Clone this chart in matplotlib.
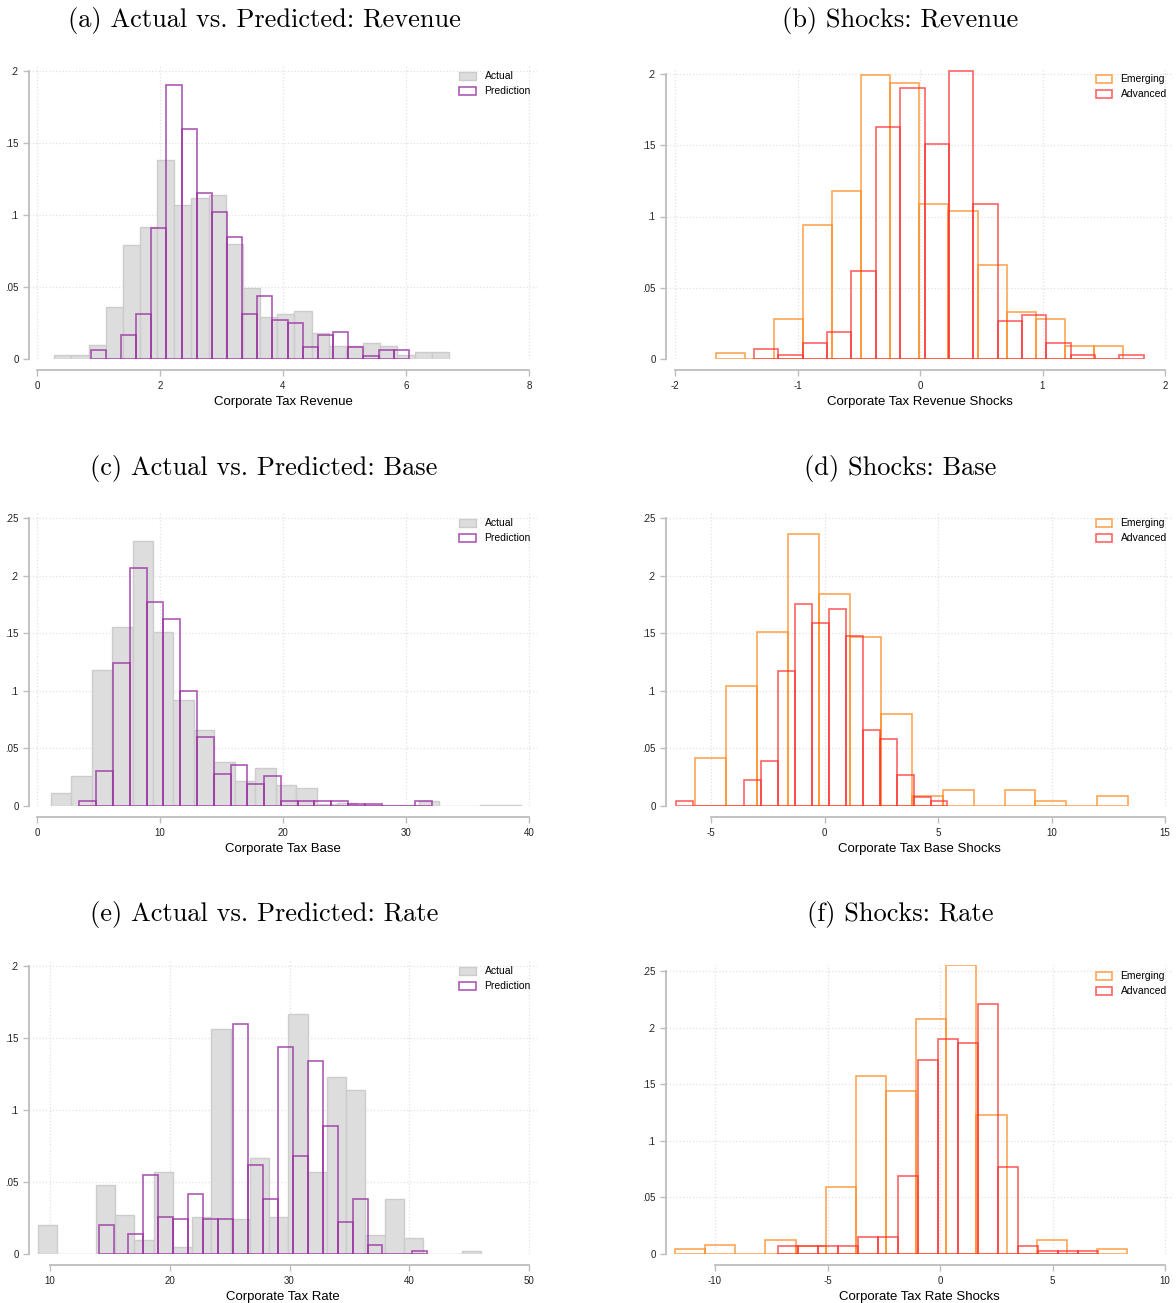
import numpy as np
from matplotlib import pyplot as plt

plt.rcParams['font.family'] = ['Liberation Sans', 'DejaVu Sans']

# ---- (a) revenue: actual vs prediction ----
rev_act_start, rev_act_w = 0.28, 0.279
rev_act = [0.003, 0.003, 0.010, 0.036, 0.079, 0.092, 0.138, 0.107, 0.112, 0.114,
           0.080, 0.049, 0.029, 0.031, 0.033, 0.018, 0.009, 0.009, 0.011, 0.009,
           0.003, 0.005, 0.005]
rev_pred_start, rev_pred_w = 0.87, 0.2466
rev_pred = [0.006, 0.0, 0.017, 0.031, 0.091, 0.190, 0.160, 0.115, 0.102, 0.085,
            0.031, 0.044, 0.027, 0.025, 0.008, 0.017, 0.019, 0.008, 0.002, 0.006, 0.006]

# ---- (b) revenue shocks ----
rev_em_start, rev_em_w = -1.666, 0.2373
rev_em = [0.004, 0.0, 0.028, 0.094, 0.118, 0.199, 0.194, 0.109, 0.104, 0.066,
          0.033, 0.028, 0.009, 0.009]
rev_ad_start, rev_ad_w = -1.355, 0.1989
rev_ad = [0.007, 0.003, 0.011, 0.019, 0.062, 0.163, 0.190, 0.151, 0.202, 0.109,
          0.027, 0.031, 0.011, 0.003, 0.0, 0.003]

# ---- (c) base: actual vs prediction ----
base_act_start, base_act_w = 1.12, 1.662
base_act = [0.011, 0.026, 0.118, 0.155, 0.230, 0.151, 0.092, 0.066, 0.038, 0.022,
            0.033, 0.018, 0.016, 0.002, 0.003, 0.001, 0.001, 0.001, 0.004, 0.0,
            0.0, 0.001, 0.001]
base_pred_start, base_pred_w = 3.45, 1.365
base_pred = [0.004, 0.030, 0.124, 0.207, 0.177, 0.162, 0.100, 0.060, 0.028, 0.036,
             0.019, 0.026, 0.004, 0.004, 0.004, 0.004, 0.002, 0.002, 0.0, 0.0, 0.004]

# ---- (d) base shocks ----
base_em_start, base_em_w = -5.69, 1.362
base_em = [0.042, 0.104, 0.151, 0.236, 0.184, 0.147, 0.080, 0.009, 0.014, 0.0,
           0.014, 0.004, 0.0, 0.009]
base_ad_start, base_ad_w = -6.55, 0.748
base_ad = [0.004, 0.0, 0.0, 0.0, 0.023, 0.039, 0.117, 0.175, 0.159, 0.171,
           0.148, 0.066, 0.058, 0.027, 0.008, 0.004]

# ---- (e) rate: actual vs prediction ----
rate_act_start, rate_act_w = 8.99, 1.609
rate_act = [0.020, 0.0, 0.0, 0.048, 0.027, 0.010, 0.057, 0.005, 0.026, 0.156,
            0.024, 0.067, 0.026, 0.167, 0.057, 0.123, 0.114, 0.013, 0.038, 0.011,
            0.0, 0.0, 0.002]
rate_pred_start, rate_pred_w = 14.06, 1.2475
rate_pred = [0.020, 0.0, 0.014, 0.055, 0.026, 0.024, 0.042, 0.024, 0.024, 0.160,
             0.062, 0.038, 0.144, 0.068, 0.134, 0.089, 0.022, 0.038, 0.006, 0.0,
             0.0, 0.002]

# ---- (f) rate shocks ----
rate_em_start, rate_em_w = -11.78, 1.34
rate_em = [0.004, 0.008, 0.0, 0.012, 0.007, 0.059, 0.157, 0.144, 0.208, 0.255,
           0.123, 0.0, 0.012, 0.0, 0.004]
rate_ad_start, rate_ad_w = -7.19, 0.889
rate_ad = [0.007, 0.007, 0.007, 0.007, 0.015, 0.015, 0.069, 0.171, 0.190, 0.186,
           0.221, 0.077, 0.007, 0.003, 0.003, 0.003]

W, H = 1176, 1303
fig = plt.figure(figsize=(W / 100, H / 100), dpi=100)

GRAY_FILL = '#dddddd'
GRAY_EDGE = '#cccccc'
PURPLE = '#9a2fa0'
ORANGE = '#ff8a1f'
RED = '#ff3030'
AXC = '#bdbdbd'


def make_ax(lpx, px0, px1, v0, v1, py0, py1, ymax, pad=8):
    # lpx: pixel x of the left spine; px0/px1: pixel x of first/last x tick
    # py0: pixel y of 0, py1: pixel y of ymax
    sx = (v1 - v0) / (px1 - px0)
    r = px1 + pad
    top = py1 - 6
    ax = fig.add_axes([lpx / W, 1 - py0 / H, (r - lpx) / W, (py0 - top) / H])
    ax.set_xlim(v0 - (px0 - lpx) * sx, v1 + pad * sx)
    ax.set_ylim(0, ymax * (py0 - top) / (py0 - py1))
    for s in ['top', 'right']:
        ax.spines[s].set_visible(False)
    for s in ['left', 'bottom']:
        ax.spines[s].set_color(AXC)
        ax.spines[s].set_linewidth(1.3)
    ax.spines['bottom'].set_position(('outward', 8))
    ax.spines['left'].set_bounds(0, ymax)
    ax.spines['bottom'].set_bounds(v0, v1)
    ax.tick_params(colors=AXC, labelcolor='#222222', labelsize=7, length=4, width=1)
    ax.grid(True, color='#e2e2e2', linestyle=':', linewidth=0.9)
    ax.set_axisbelow(True)
    return ax


def bars(ax, start, w, vals, **kw):
    x = start + w * np.arange(len(vals))
    return ax.bar(x, vals, width=w, align='edge', **kw)


def lab(v):
    if v == 0:
        return '0'
    return ('%g' % v).replace('0.', '.')


def finish(ax, xt, yt, xlabel, title, tx, ty, names):
    ax.set_xticks(xt, [('%g' % t) for t in xt])
    ax.set_yticks(yt, [lab(t) for t in yt])
    ax.set_xlabel(xlabel, fontsize=9.5, labelpad=4)
    fig.text(tx / W, 1 - ty / H, title, family='cmr10', fontsize=19,
             ha='center', va='center')
    ax.legend(names, loc='upper right', frameon=False, fontsize=7.5,
              handlelength=1.6, handleheight=0.8, borderaxespad=0.2,
              bbox_to_anchor=(1.0, 1.0))


# (a)
ax = make_ax(29, 37, 529, 0, 8, 359, 71, 0.2)
bars(ax, rev_act_start, rev_act_w, rev_act, color=GRAY_FILL, edgecolor=GRAY_EDGE, linewidth=1)
bars(ax, rev_pred_start, rev_pred_w, rev_pred, fill=False, edgecolor=PURPLE, linewidth=1.2, alpha=0.8)
finish(ax, [0, 2, 4, 6, 8], [0, 0.05, 0.1, 0.15, 0.2], 'Corporate Tax Revenue',
       '(a) Actual vs. Predicted: Revenue', 264, 20, ['Actual', 'Prediction'])

# (b)
ax = make_ax(666, 675, 1165, -2, 2, 359, 74, 0.2)
bars(ax, rev_em_start, rev_em_w, rev_em, fill=False, edgecolor=ORANGE, linewidth=1.2, alpha=0.75)
bars(ax, rev_ad_start, rev_ad_w, rev_ad, fill=False, edgecolor=RED, linewidth=1.2, alpha=0.75)
finish(ax, [-2, -1, 0, 1, 2], [0, 0.05, 0.1, 0.15, 0.2], 'Corporate Tax Revenue Shocks',
       '(b) Shocks: Revenue', 900, 20, ['Emerging', 'Advanced'])

# (c)
ax = make_ax(29, 37, 529, 0, 40, 806, 518, 0.25)
bars(ax, base_act_start, base_act_w, base_act, color=GRAY_FILL, edgecolor=GRAY_EDGE, linewidth=1)
bars(ax, base_pred_start, base_pred_w, base_pred, fill=False, edgecolor=PURPLE, linewidth=1.2, alpha=0.8)
finish(ax, [0, 10, 20, 30, 40], [0, 0.05, 0.1, 0.15, 0.2, 0.25], 'Corporate Tax Base',
       '(c) Actual vs. Predicted: Base', 264, 468, ['Actual', 'Prediction'])

# (d)
ax = make_ax(666, 711, 1165, -5, 15, 806, 518, 0.25)
bars(ax, base_em_start, base_em_w, base_em, fill=False, edgecolor=ORANGE, linewidth=1.2, alpha=0.75)
bars(ax, base_ad_start, base_ad_w, base_ad, fill=False, edgecolor=RED, linewidth=1.2, alpha=0.75)
finish(ax, [-5, 0, 5, 10, 15], [0, 0.05, 0.1, 0.15, 0.2, 0.25], 'Corporate Tax Base Shocks',
       '(d) Shocks: Base', 900, 468, ['Emerging', 'Advanced'])

# (e)
ax = make_ax(29, 50, 529, 10, 50, 1254, 966, 0.2)
bars(ax, rate_act_start, rate_act_w, rate_act, color=GRAY_FILL, edgecolor=GRAY_EDGE, linewidth=1)
bars(ax, rate_pred_start, rate_pred_w, rate_pred, fill=False, edgecolor=PURPLE, linewidth=1.2, alpha=0.8)
finish(ax, [10, 20, 30, 40, 50], [0, 0.05, 0.1, 0.15, 0.2], 'Corporate Tax Rate',
       '(e) Actual vs. Predicted: Rate', 264, 915, ['Actual', 'Prediction'])

# (f)
ax = make_ax(666, 715, 1165, -10, 10, 1254, 971, 0.25)
bars(ax, rate_em_start, rate_em_w, rate_em, fill=False, edgecolor=ORANGE, linewidth=1.2, alpha=0.75)
bars(ax, rate_ad_start, rate_ad_w, rate_ad, fill=False, edgecolor=RED, linewidth=1.2, alpha=0.75)
finish(ax, [-10, -5, 0, 5, 10], [0, 0.05, 0.1, 0.15, 0.2, 0.25], 'Corporate Tax Rate Shocks',
       '(f) Shocks: Rate', 900, 915, ['Emerging', 'Advanced'])

fig.savefig('out.png', dpi=100)
